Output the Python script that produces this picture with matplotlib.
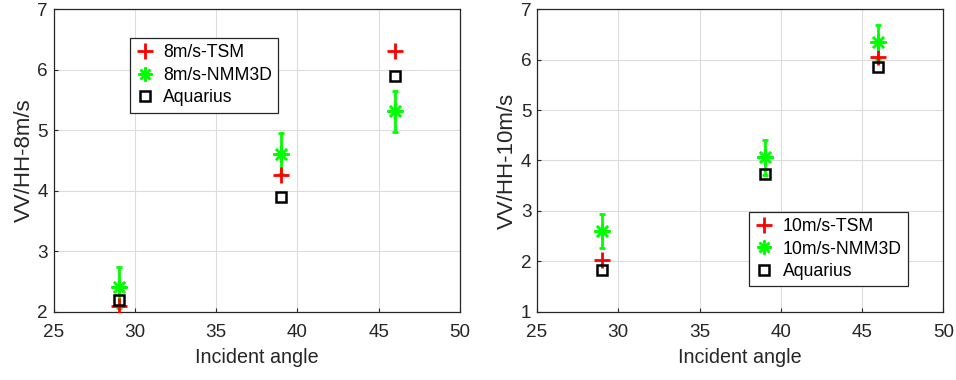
import matplotlib
matplotlib.use("Agg")
import matplotlib.pyplot as plt
from matplotlib.lines import Line2D

plt.rcParams['font.family'] = ['Liberation Sans', 'DejaVu Sans']

angles = [29, 39, 46]

# 8 m/s panel
tsm_8 = [2.09, 4.26, 6.31]
nmm_8 = [2.40, 4.61, 5.31]
nmm_8_err = [0.34, 0.34, 0.34]
aqu_8 = [2.19, 3.90, 5.90]

# 10 m/s panel
tsm_10 = [2.03, 4.07, 6.05]
nmm_10 = [2.60, 4.06, 6.35]
nmm_10_err = [0.33, 0.34, 0.34]
aqu_10 = [1.82, 3.73, 5.85]

edge = '#262626'
green = '#00ff00'

fig = plt.figure(figsize=(9.56, 3.8), dpi=100)
ax1 = fig.add_axes([0.056, 0.18, 0.425, 0.7955])
ax2 = fig.add_axes([0.5617, 0.18, 0.425, 0.7955])


def panel(ax, tsm, nmm, err, aqu, speed, ylim, yticks, legloc):
    ax.errorbar(angles, nmm, yerr=err, fmt='none', ecolor=green,
                elinewidth=2, capsize=2.5, capthick=2, zorder=3)
    h1, = ax.plot(angles, tsm, '+', color='#ff0000', ms=11, mew=2, zorder=4)
    # matlab-like asterisk: plus + cross
    ax.plot(angles, nmm, marker=(4, 2, 0), ls='none', color=green, ms=11, mew=1.8, zorder=5)
    ax.plot(angles, nmm, marker=(4, 2, 45), ls='none', color=green, ms=11, mew=1.8, zorder=5)
    h3, = ax.plot(angles, aqu, 's', mfc='none', mec='black', ms=7.5, mew=1.8, zorder=6)
    star = (Line2D([], [], ls='none', marker=(4, 2, 0), color=green, ms=10, mew=1.8),
            Line2D([], [], ls='none', marker=(4, 2, 45), color=green, ms=10, mew=1.8))
    ax.set_xlim(25, 50)
    ax.set_ylim(*ylim)
    ax.set_xticks([25, 30, 35, 40, 45, 50])
    ax.set_yticks(yticks)
    ax.grid(True, color='#dcdcdc', lw=0.8)
    ax.set_axisbelow(True)
    for s in ax.spines.values():
        s.set_color(edge)
        s.set_linewidth(0.9)
    ax.tick_params(direction='in', length=3, colors=edge, labelsize=13.6)
    ax.tick_params(axis='x', pad=9)
    ax.tick_params(axis='y', pad=4)
    ax.set_xlabel('Incident angle', fontsize=14.2, color=edge, labelpad=5)
    ax.set_ylabel('VV/HH-' + speed, fontsize=16, color=edge, labelpad=2)
    leg = ax.legend([h1, star, h3], [speed + '-TSM', speed + '-NMM3D', 'Aquarius'],
                    loc='upper left', bbox_to_anchor=legloc, fontsize=12.7,
                    frameon=True, fancybox=False, edgecolor=edge, framealpha=1,
                    handlelength=1.0, handletextpad=0.55, borderpad=0.35,
                    labelspacing=0.32, borderaxespad=0)
    leg.get_frame().set_linewidth(0.9)


panel(ax1, tsm_8, nmm_8, nmm_8_err, aqu_8, '8m/s', (2, 7), [2, 3, 4, 5, 6, 7], (0.188, 0.905))
panel(ax2, tsm_10, nmm_10, nmm_10_err, aqu_10, '10m/s', (1, 7), [1, 2, 3, 4, 5, 6, 7], (0.523, 0.33))

fig.savefig('out.png', dpi=100)
